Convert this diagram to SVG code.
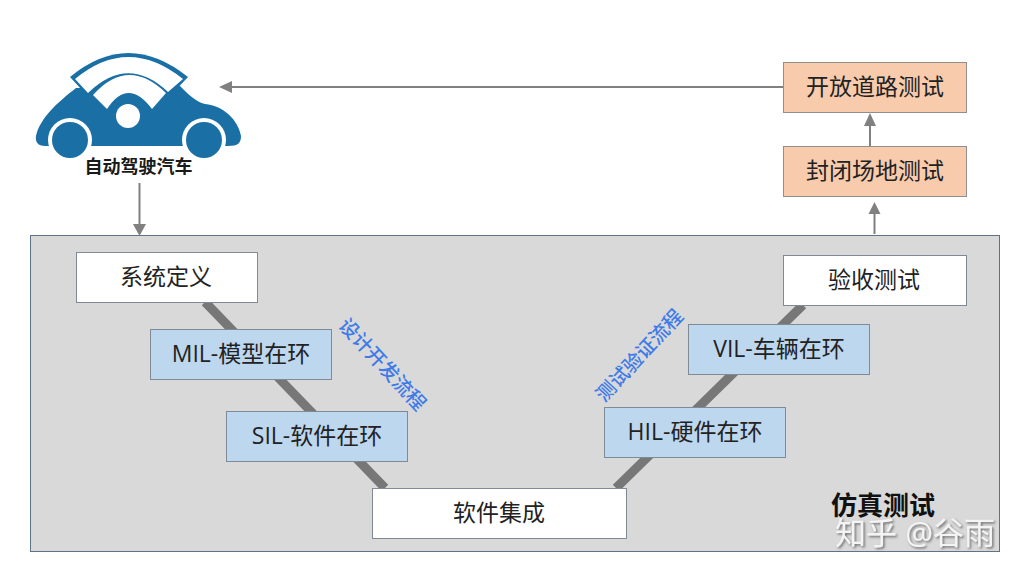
<svg xmlns="http://www.w3.org/2000/svg" width="1023" height="578" viewBox="0 0 1023 578">
<defs><filter id="ws" x="-10%" y="-20%" width="120%" height="140%"><feDropShadow dx="1.500" dy="1.500" stdDeviation="0.800" flood-color="#555" flood-opacity="0.800"/></filter></defs>
<style>
text{font-family:"Open Sans","Noto Sans CJK SC",sans-serif;text-anchor:middle;dominant-baseline:central}
.w{fill:#fff;stroke:#7f8a96;stroke-width:1}
.b{fill:#bdd7ee;stroke:#7f8a96;stroke-width:1}
.o{fill:#f8cbad;stroke:#8f8f8f;stroke-width:1}
.t{font-size:23px;fill:#222}
.l{font-size:19.500px;font-weight:500;fill:#3f7be8}
.c{stroke:#808080;stroke-width:2;fill:none}
.v{stroke:#777;stroke-width:9;fill:none}
.h{fill:#808080}
.car{fill:#1a6fa5}
</style>
<rect width="1023" height="578" fill="#fff"/>
<g id="simulation-panel"><rect x="30.500" y="235.500" width="969" height="316" fill="#d9d9d9" stroke="#5f7286" stroke-width="1"/></g>
<g id="connectors">
<path class="v" d="M205 302L385 488M616 488L803 305"/>
<path class="c" d="M232 87H783"/><polygon class="h" points="219,87 232,81 232,93"/>
<path class="c" d="M139.500 183V226"/><polygon class="h" points="139.500,236 133,224 146,224"/>
<path class="c" d="M870 146V125"/><polygon class="h" points="870,113 864,126 876,126"/>
<path class="c" d="M874.500 234V213"/><polygon class="h" points="874.500,202 868.500,214 880.500,214"/>
</g>
<g id="car">
<path class="car" d="M36 136C40 118 58 102 76 88L180 86C188 94 196 102 205 104C224 106 238 120 241 136C241 143 238 146 228 146L45 146C38 146 35 142 36 136Z"/>
<path class="car" d="M70 77Q128 29 188 77L152 115H105Z"/>
<circle cx="70" cy="140" r="22" fill="#fff"/>
<circle cx="204" cy="140" r="22" fill="#fff"/>
<rect x="40" y="146.500" width="190" height="14" fill="#fff"/>
<circle class="car" cx="70" cy="140" r="18"/>
<circle class="car" cx="204" cy="140" r="18"/>
<path d="M75 79Q128 35 183 79L168 92Q128 54 88 93Z" fill="#fff"/>
<path d="M93 95Q128 56 166 93L152 109Q128 77 107 109Z" fill="#fff"/>
<circle cx="128" cy="116" r="12" fill="#fff"/>
<text x="138.500" y="166" font-size="18" font-weight="700" fill="#1a1a1a">自动驾驶汽车</text>
</g>
<g id="open-road"><rect class="o" x="783.500" y="62.500" width="183" height="50"/><text class="t" x="875" y="85.500">开放道路测试</text></g>
<g id="closed-site"><rect class="o" x="783.500" y="146.500" width="183" height="50"/><text class="t" x="875" y="169.500">封闭场地测试</text></g>
<g id="system-definition"><rect class="w" x="76.500" y="252.500" width="181" height="50"/><text class="t" x="166" y="276">系统定义</text></g>
<g id="mil"><rect class="b" x="150.500" y="329.500" width="181" height="50"/><text class="t" x="241" y="352.500">MIL-模型在环</text></g>
<g id="sil"><rect class="b" x="226.500" y="411.500" width="181" height="50"/><text class="t" x="317" y="434.500">SIL-软件在环</text></g>
<g id="integration"><rect class="w" x="372.500" y="488.500" width="254" height="50"/><text class="t" x="499" y="511.500">软件集成</text></g>
<g id="hil"><rect class="b" x="604.500" y="407.500" width="181" height="50"/><text class="t" x="695" y="430.500">HIL-硬件在环</text></g>
<g id="vil"><rect class="b" x="688.500" y="324.500" width="181" height="50"/><text class="t" x="779" y="347.500">VIL-车辆在环</text></g>
<g id="acceptance"><rect class="w" x="783.500" y="255.500" width="183" height="50"/><text class="t" x="874" y="279">验收测试</text></g>
<g id="labels">
<text class="l" transform="translate(383 364) rotate(47)">设计开发流程</text>
<text class="l" transform="translate(639 355) rotate(-47)">测试验证流程</text>
<text x="883" y="505" font-size="26" font-weight="700" fill="#111">仿真测试</text>
<text x="915" y="532" font-size="31" fill="#f4f4f4" filter="url(#ws)">知乎 @谷雨</text>
</g>
</svg>
